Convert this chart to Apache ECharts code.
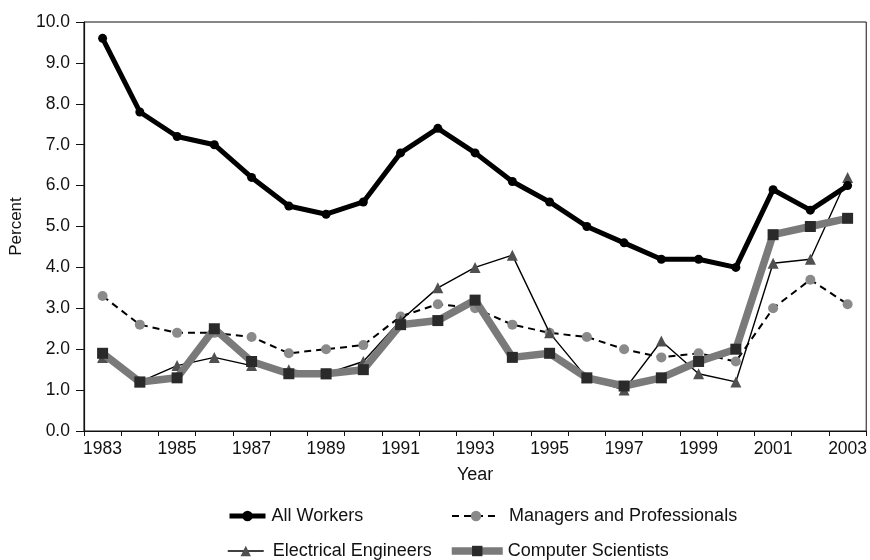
<!DOCTYPE html>
<html>
<head>
<meta charset="utf-8">
<script src="https://cdn.jsdelivr.net/npm/echarts@6/dist/echarts.min.js"></script>
<style>
  html, body { margin: 0; padding: 0; background: #fff; }
  #chart { width: 870px; height: 560px; }
</style>
</head>
<body>
<div id="chart"></div>
<script>
// Unemployment rates, 1983-2003 (percent)
const years = ['1983','1984','1985','1986','1987','1988','1989','1990','1991','1992','1993',
               '1994','1995','1996','1997','1998','1999','2000','2001','2002','2003'];
const allWorkers = [9.6, 7.8, 7.2, 7.0, 6.2, 5.5, 5.3, 5.6, 6.8, 7.4, 6.8,
                    6.1, 5.6, 5.0, 4.6, 4.2, 4.2, 4.0, 5.9, 5.4, 6.0];
const managersProfessionals = [3.3, 2.6, 2.4, 2.4, 2.3, 1.9, 2.0, 2.1, 2.8, 3.1, 3.0,
                               2.6, 2.4, 2.3, 2.0, 1.8, 1.9, 1.7, 3.0, 3.7, 3.1];
const electricalEngineers = [1.8, 1.2, 1.6, 1.8, 1.6, 1.5, 1.4, 1.7, 2.7, 3.5, 4.0,
                             4.3, 2.4, 1.3, 1.0, 2.2, 1.4, 1.2, 4.1, 4.2, 6.2];
const computerScientists = [1.9, 1.2, 1.3, 2.5, 1.7, 1.4, 1.4, 1.5, 2.6, 2.7, 3.2,
                            1.8, 1.9, 1.3, 1.1, 1.3, 1.7, 2.0, 4.8, 5.0, 5.2];
const yTicks = { min: 0, max: 10, interval: 1 };

const font = 'Liberation Sans, Arial, Helvetica, sans-serif';
const chart = echarts.init(document.getElementById('chart'), null, { renderer: 'canvas' });

// one legend block per entry so the two columns line up
function legendAt(name, left, top, width, lineWidth, textGap) {
  return {
    data: [{ name: name, lineStyle: { width: lineWidth } }],
    left: left, top: top, orient: 'horizontal',
    itemWidth: width, itemHeight: 13, padding: 0,
    textStyle: { fontFamily: font, fontSize: 18, lineHeight: 18, color: '#111',
                 padding: [0, 0, 0, textGap] },
    selectedMode: false
  };
}

chart.setOption({
  animation: false,
  backgroundColor: '#fff',
  grid: { left: 82, right: 3, top: 22, bottom: 129, show: true, borderColor: '#111', borderWidth: 1 },
  legend: [
    legendAt('All Workers', 227, 507, 36, 5, 1),
    legendAt('Managers and Professionals', 451, 507, 48, 2, 4),
    legendAt('Electrical Engineers', 227, 542, 36, 1.5, 4),
    legendAt('Computer Scientists', 448, 542, 51, 7.5, 0)
  ],
  xAxis: {
    type: 'category',
    data: years,
    boundaryGap: true,
    name: 'Year',
    nameLocation: 'middle',
    nameGap: 35,
    nameTextStyle: { fontFamily: font, fontSize: 18, color: '#111' },
    axisLine: { lineStyle: { color: '#111', width: 1.2 } },
    axisTick: { show: true, interval: 0, length: 5, lineStyle: { color: '#111' } },
    axisLabel: { interval: 1, fontFamily: font, fontSize: 17.5, color: '#111', margin: 9 },
    splitLine: { show: false }
  },
  yAxis: {
    type: 'value',
    min: yTicks.min, max: yTicks.max, interval: yTicks.interval,
    name: 'Percent',
    nameLocation: 'middle',
    nameGap: 55,
    nameRotate: 90,
    nameTextStyle: { fontFamily: font, fontSize: 17, color: '#111' },
    axisLine: { show: true, lineStyle: { color: '#111', width: 1.2 } },
    axisTick: { show: true, length: 8, lineStyle: { color: '#111' } },
    axisLabel: { fontFamily: font, fontSize: 17.5, color: '#111', margin: 14,
                 formatter: v => v.toFixed(1) },
    splitLine: { show: false }
  },
  series: [
    {
      name: 'All Workers', type: 'line', data: allWorkers,
      symbol: 'circle', symbolSize: 9,
      lineStyle: { color: '#000', width: 5 },
      itemStyle: { color: '#000' }, z: 5
    },
    {
      name: 'Managers and Professionals', type: 'line', data: managersProfessionals,
      symbol: 'circle', symbolSize: 10,
      lineStyle: { color: '#000', width: 2, type: [7, 5] },
      itemStyle: { color: '#8a8a8a' }, z: 2
    },
    {
      name: 'Electrical Engineers', type: 'line', data: electricalEngineers,
      symbol: 'triangle', symbolSize: 11,
      lineStyle: { color: '#000', width: 1.4 },
      itemStyle: { color: '#505050' }, z: 3
    },
    {
      name: 'Computer Scientists', type: 'line', data: computerScientists,
      symbol: 'rect', symbolSize: 11,
      lineStyle: { color: '#7a7a7a', width: 7.5 },
      itemStyle: { color: '#2a2a2a' }, z: 4
    }
  ]
});
</script>
</body>
</html>
